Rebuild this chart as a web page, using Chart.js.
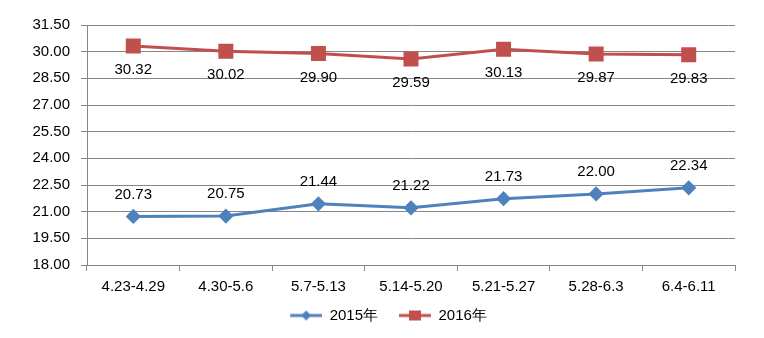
<!DOCTYPE html>
<html>
<head>
<meta charset="utf-8">
<script src="https://cdn.jsdelivr.net/npm/chart.js@4/dist/chart.umd.min.js"></script>
<style>
  html, body { margin: 0; padding: 0; background: #fff; }
  #wrap { width: 764px; height: 338px; }
</style>
</head>
<body>
<div id="wrap"><canvas id="grafico"></canvas></div>
<script>
// Semanas y promedios por año
var semanas = ['4.23-4.29', '4.30-5.6', '5.7-5.13', '5.14-5.20', '5.21-5.27', '5.28-6.3', '6.4-6.11'];
var valores2015 = [20.73, 20.75, 21.44, 21.22, 21.73, 22.00, 22.34];
var valores2016 = [30.32, 30.02, 29.90, 29.59, 30.13, 29.87, 29.83];
var ejeMin = 18.00, ejeMax = 31.50, ejePaso = 1.50;

var azul = '#4F81BD';
var rojo = '#C0504D';
var fuente = "'Liberation Sans', Arial, sans-serif";
var tamFuente = 15;

// Icono de leyenda: hueco a la izquierda, luego línea con el marcador en el centro
function iconoLeyenda(color, forma) {
    var c = document.createElement('canvas');
    c.width = 48; c.height = 14;
    var ctx = c.getContext('2d');
    ctx.translate(16, 0);
    ctx.strokeStyle = color;
    ctx.lineWidth = 3;
    ctx.beginPath();
    ctx.moveTo(0, 7); ctx.lineTo(32, 7);
    ctx.stroke();
    ctx.fillStyle = color;
    ctx.beginPath();
    if (forma === 'rombo') {
        ctx.moveTo(16, 2); ctx.lineTo(21, 7); ctx.lineTo(16, 12); ctx.lineTo(11, 7);
    } else {
        ctx.rect(10, 2, 12, 10);
    }
    ctx.closePath();
    ctx.fill();
    return c;
}
var iconos = [iconoLeyenda(azul, 'rombo'), iconoLeyenda(rojo, 'cuadro')];

// Etiquetas de valor: 2015 encima del punto, 2016 debajo
var etiquetasValor = {
    id: 'etiquetasValor',
    afterDatasetsDraw: function(chart) {
        var ctx = chart.ctx;
        ctx.save();
        ctx.font = tamFuente + 'px ' + fuente;
        ctx.fillStyle = '#000';
        ctx.textAlign = 'center';
        ctx.textBaseline = 'middle';
        chart.data.datasets.forEach(function(ds, i) {
            var meta = chart.getDatasetMeta(i);
            var desplazamiento = i === 0 ? -22 : 24;
            meta.data.forEach(function(pt, j) {
                ctx.fillText(ds.data[j].toFixed(2), pt.x, pt.y + desplazamiento);
            });
        });
        ctx.restore();
    }
};

var ctx = document.getElementById('grafico').getContext('2d');
var miGrafico = new Chart(ctx, {
    type: 'line',
    data: {
        labels: semanas,
        datasets: [{
            label: '2015年',
            data: valores2015,
            borderColor: azul,
            backgroundColor: azul,
            borderWidth: 3,
            pointStyle: 'rectRot',
            pointRadius: 5.5,
            pointHoverRadius: 5.5,
            tension: 0
        }, {
            label: '2016年',
            data: valores2016,
            borderColor: rojo,
            backgroundColor: rojo,
            borderWidth: 3,
            pointStyle: 'rect',
            pointRadius: 8.5,
            pointHoverRadius: 8.5,
            tension: 0
        }]
    },
    options: {
        responsive: true,
        maintainAspectRatio: false,
        animation: false,
        layout: { padding: { top: 25, right: 29, left: 26, bottom: 5 } },
        scales: {
            x: {
                offset: true,
                grid: { offset: true, color: 'rgba(0,0,0,0)', tickColor: '#868686', tickLength: 6 },
                border: { color: '#868686', width: 1 },
                ticks: { color: '#000', font: { family: fuente, size: tamFuente }, padding: 7, maxRotation: 0, autoSkip: false }
            },
            y: {
                min: ejeMin,
                max: ejeMax,
                grid: { color: '#868686', tickColor: '#868686', tickLength: 6 },
                border: { color: '#868686', width: 1 },
                ticks: {
                    stepSize: ejePaso,
                    color: '#000',
                    font: { family: fuente, size: tamFuente },
                    padding: 11,
                    callback: function(v) { return v.toFixed(2); }
                },
                afterFit: function(scale) { scale.width = 61; }
            }
        },
        plugins: {
            legend: {
                position: 'bottom',
                labels: {
                    usePointStyle: true,
                    pointStyleWidth: 48,
                    padding: 5,
                    color: '#000',
                    font: { family: fuente, size: tamFuente },
                    generateLabels: function(chart) {
                        var items = Chart.defaults.plugins.legend.labels.generateLabels(chart);
                        items.forEach(function(it, i) { it.pointStyle = iconos[i]; });
                        return items;
                    }
                }
            },
            tooltip: { enabled: false }
        }
    },
    plugins: [etiquetasValor]
});
</script>
</body>
</html>
